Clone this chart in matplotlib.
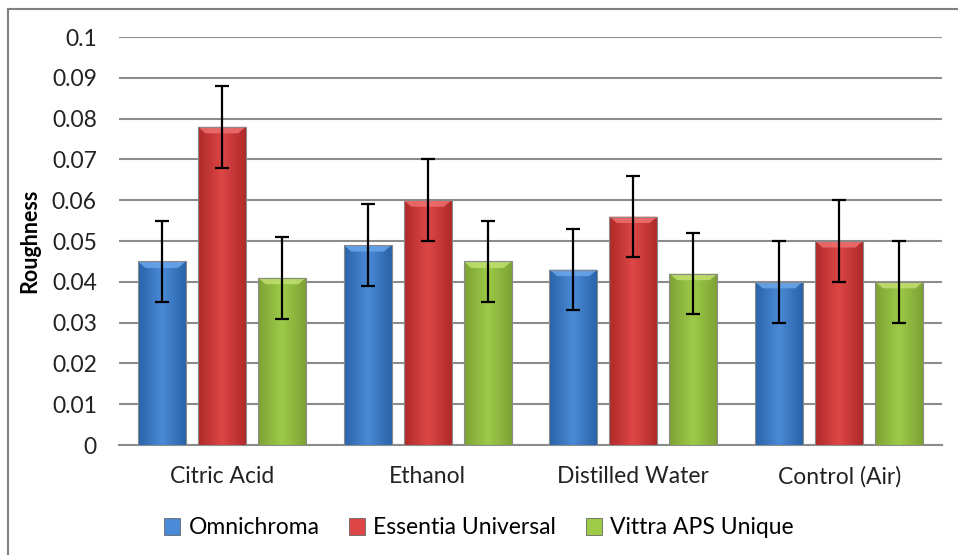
import numpy as np
import matplotlib
matplotlib.use("Agg")
import matplotlib.pyplot as plt
from matplotlib.colors import LinearSegmentedColormap
from matplotlib.patches import Rectangle, Polygon
from matplotlib.lines import Line2D

categories = ["Citric Acid", "Ethanol", "Distilled Water", "Control (Air)"]
series = ["Omnichroma", "Essentia Universal", "Vittra APS Unique"]
omnichroma = [0.045, 0.049, 0.043, 0.040]
essentia = [0.078, 0.060, 0.056, 0.050]
vittra = [0.041, 0.045, 0.042, 0.040]
err_omni = [0.010, 0.010, 0.010, 0.010]
err_ess = [0.010, 0.010, 0.010, 0.010]
err_vit = [0.010, 0.010, 0.010, 0.010]
yticks = [0, 0.01, 0.02, 0.03, 0.04, 0.05, 0.06, 0.07, 0.08, 0.09, 0.1]
ytick_labels = ["0", "0.01", "0.02", "0.03", "0.04", "0.05", "0.06", "0.07", "0.08", "0.09", "0.1"]

colors = {
    "Omnichroma": ("#2a63a8", "#4a8ad6", "#2a63a8", "#6aa6ea"),
    "Essentia Universal": ("#b02a2a", "#dd4646", "#b02a2a", "#ee7070"),
    "Vittra APS Unique": ("#7ea235", "#9dcb48", "#7ea235", "#c0e070"),
}

plt.rcParams['font.family'] = ['Lato', 'DejaVu Sans']

fig = plt.figure(figsize=(9.58, 5.55), dpi=100)
ax = fig.add_axes([119/958, 110/555, (942-119)/958, (445-37)/555])

x = np.arange(len(categories))
w = 0.233
step = 0.292
data = [omnichroma, essentia, vittra]
errs = [err_omni, err_ess, err_vit]

ax.set_ylim(0, 0.1)
ax.set_xlim(-0.5, len(categories) - 0.5)

for i, (name, vals, e) in enumerate(zip(series, data, errs)):
    pos = x + (i - 1) * step
    bars = ax.bar(pos, vals, width=w, color=colors[name][1], edgecolor="#9a9a9a",
                  linewidth=0.6, zorder=3)
    cmap = LinearSegmentedColormap.from_list(name, list(colors[name][:3]))
    grad = np.linspace(0, 1, 64).reshape(1, -1)
    for b in bars:
        bx, by, bw, bh = b.get_x(), b.get_y(), b.get_width(), b.get_height()
        im = ax.imshow(grad, cmap=cmap, extent=[bx, bx + bw, by, by + bh],
                       aspect='auto', zorder=3.5, interpolation='bilinear')
        im.set_clip_path(b)
        # top bevel (trapezoid)
        bev_h = 0.0016
        inset = bw * 0.16
        top = by + bh
        bev = Polygon([(bx, top), (bx + bw, top), (bx + bw - inset, top - bev_h),
                       (bx + inset, top - bev_h)], closed=True,
                      facecolor=colors[name][3], edgecolor="none", alpha=0.85, zorder=3.6)
        ax.add_patch(bev)
        ax.add_patch(Rectangle((bx, by), bw, bh, facecolor="none", edgecolor="#8a8a8a",
                               linewidth=0.8, zorder=3.7))
    ax.errorbar(pos, vals, yerr=e, fmt='none', ecolor='black', elinewidth=1.6,
                capsize=5, capthick=1.6, zorder=5)

ax.set_yticks(yticks)
ax.set_yticklabels(ytick_labels, fontsize=16.5, color="#222222")
ax.set_xticks(x)
ax.set_xticklabels(categories, fontsize=16.5, color="#222222")
ax.tick_params(axis='y', length=0, pad=16)
ax.tick_params(axis='x', length=0, pad=15)
ax.yaxis.grid(True, color="#8c8c8c", linewidth=1.5, zorder=0)
ax.set_axisbelow(True)
for s in ["left", "right", "top"]:
    ax.spines[s].set_visible(False)
ax.spines["bottom"].set_color("#8c8c8c")
ax.spines["bottom"].set_linewidth(1.5)
ax.set_ylabel("Roughness", fontsize=15.5, fontweight="bold", labelpad=8)

# legend
handles = [Rectangle((0, 0), 1, 1, facecolor=colors[n][1], edgecolor="#666666", linewidth=0.6)
           for n in series]
fig.legend(handles, series, loc="center", bbox_to_anchor=(0.5, (555-528)/555), ncol=3,
           frameon=False, fontsize=16.5, handlelength=0.7, handleheight=0.7,
           handletextpad=0.35, columnspacing=1.3)

# outer frame (top and left edges visible)
fig.add_artist(Line2D([8/958, 1.0], [1 - 9/555, 1 - 9/555], color="#808080", linewidth=1.5,
                      transform=fig.transFigure))
fig.add_artist(Line2D([8/958, 8/958], [0, 1 - 9/555], color="#808080", linewidth=1.5,
                      transform=fig.transFigure))

fig.savefig("out.png", dpi=100)
